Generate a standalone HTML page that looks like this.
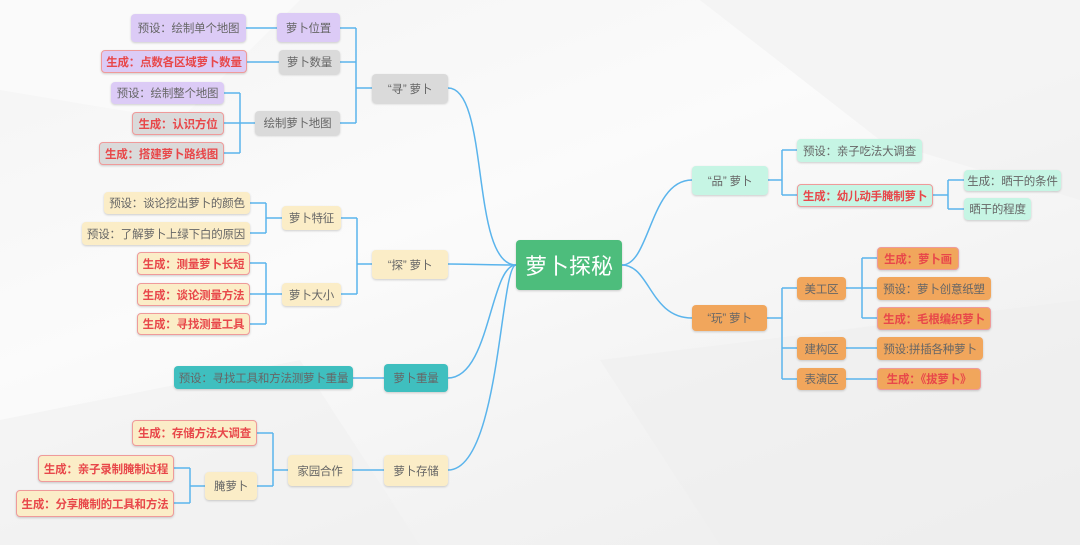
<!DOCTYPE html>
<html><head><meta charset="utf-8">
<style>
html,body{margin:0;padding:0}
body{width:1080px;height:545px;position:relative;overflow:hidden;background:linear-gradient(160deg,#f4f4f4 0%,#fbfbfb 40%,#f3f3f3 70%,#ededed 100%);font-family:"Liberation Sans","Noto Sans CJK SC",sans-serif}
.b{position:absolute;box-sizing:border-box;display:flex;align-items:center;justify-content:center;font-size:11.5px;color:#666;border-radius:4px;white-space:nowrap;box-shadow:0 1px 2px rgba(0,0,0,.18);letter-spacing:-0.2px}
.r{color:#e8474a;font-weight:bold;border:1px solid #ef9a9a}
.pu{background:#dccbf6}.gr{background:#dadada}.be{background:#fbedc7}.te{background:#3fbfbf}.mi{background:#c6f5e4}.or{background:#f1a65c}
svg{position:absolute;left:0;top:0}
</style></head><body>
<svg width="1080" height="545">
<polygon points="0,0 300,0 180,120 0,90" fill="#fafafa"/>
<polygon points="700,0 1080,0 1080,200 880,140" fill="#f0f0f0" opacity=".6"/>
<polygon points="600,360 1080,300 1080,545 720,545" fill="#efefef" opacity=".6"/>
<polygon points="0,420 300,360 420,545 0,545" fill="#f0f0f0" opacity=".6"/>
<g id="L" fill="none" stroke="#5ab4ec" stroke-width="1.5"></g>
</svg>
<div id="W"></div>
<script>
var boxes=[
[131,14,246,42,'pu','预设：绘制单个地图',0],
[277,13,340,42,'pu','萝卜位置',0],
[101,50,247,73,'pu','生成：点数各区域萝卜数量',1],
[279,50,340,74,'gr','萝卜数量',0],
[111,82,224,104,'pu','预设：绘制整个地图',0],
[132,112,224,135,'gr','生成：认识方位',1],
[99,142,224,165,'gr','生成：搭建萝卜路线图',1],
[255,111,340,135,'gr','绘制萝卜地图',0],
[372,74,448,103,'gr','“寻” 萝卜',0],
[104,192,250,214,'be','预设：谈论挖出萝卜的颜色',0],
[82,222,250,245,'be','预设：了解萝卜上绿下白的原因',0],
[282,206,341,230,'be','萝卜特征',0],
[137,252,250,275,'be','生成：测量萝卜长短',1],
[137,283,250,306,'be','生成：谈论测量方法',1],
[137,313,250,335,'be','生成：寻找测量工具',1],
[282,283,341,306,'be','萝卜大小',0],
[372,250,448,279,'be','“探” 萝卜',0],
[174,366,353,389,'te','预设：寻找工具和方法测萝卜重量',0],
[384,364,448,392,'te','萝卜重量',0],
[132,420,257,446,'be','生成：存储方法大调查',1],
[38,455,174,482,'be','生成：亲子录制腌制过程',1],
[16,490,174,517,'be','生成：分享腌制的工具和方法',1],
[205,472,257,500,'be','腌萝卜',0],
[288,455,352,486,'be','家园合作',0],
[384,455,448,486,'be','萝卜存储',0],
[692,166,768,195,'mi','“品” 萝卜',0],
[797,139,922,162,'mi','预设：亲子吃法大调查',0],
[797,184,933,207,'mi','生成：幼儿动手腌制萝卜',1],
[964,170,1061,191,'mi','生成：晒干的条件',0],
[964,198,1031,220,'mi','晒干的程度',0],
[692,305,767,331,'or','“玩” 萝卜',0],
[797,277,846,300,'or','美工区',0],
[797,337,846,360,'or','建构区',0],
[797,368,846,390,'or','表演区',0],
[877,247,959,270,'or','生成：萝卜画',1],
[877,277,991,300,'or','预设：萝卜创意纸塑',0],
[877,307,991,330,'or','生成：毛根编织萝卜',1],
[877,337,983,360,'or','预设:拼插各种萝卜',0],
[877,368,981,390,'or','生成：《拔萝卜》',1]
];
var h='';
boxes.forEach(function(b){h+='<div class="b '+b[4]+(b[6]?' r':'')+'" style="left:'+b[0]+'px;top:'+b[1]+'px;width:'+(b[2]-b[0])+'px;height:'+(b[3]-b[1])+'px">'+b[5]+'</div>';});
h+='<div class="b" style="left:516px;top:240px;width:106px;height:50px;background:#4dbd7c;color:#fff;font-size:22px;letter-spacing:0">萝卜探秘</div>';
document.getElementById('W').innerHTML=h;
var p='';
function L(d){p+='<path d="'+d+'"/>';}
function B(px,py,tx,cs){L('M'+px+' '+py+'H'+tx);var ys=cs.map(function(c){return c[1]});L('M'+tx+' '+Math.min.apply(0,ys)+'V'+Math.max.apply(0,ys));cs.forEach(function(c){L('M'+tx+' '+c[1]+'H'+c[0]);});}
L('M516 265C470 265 490 88 448 88');
L('M516 265C480 265 470 264 448 264');
L('M516 265C490 265 490 378 448 378');
L('M516 265C500 265 500 470 448 470');
L('M622 265C650 265 650 180 692 180');
L('M622 265C650 265 650 318 692 318');
B(372,88,356,[[340,28],[340,62],[340,123]]);
L('M246 28H277');L('M247 62H279');
B(255,123,240,[[224,93],[224,123],[224,153]]);
B(372,264,357,[[341,218],[341,294]]);
B(282,218,266,[[250,203],[250,233]]);
B(282,294,266,[[250,263],[250,294],[250,324]]);
L('M353 378H384');
L('M384 470H352');
B(288,470,273,[[257,433],[257,486]]);
B(205,486,190,[[174,468],[174,503]]);
B(768,180,782,[[797,150],[797,195]]);
B(933,195,948,[[964,180],[964,209]]);
B(767,318,782,[[797,288],[797,348],[797,379]]);
B(846,288,862,[[877,258],[877,288],[877,318]]);
L('M846 348H877');L('M846 379H877');
document.getElementById('L').innerHTML=p;
</script>
</body></html>
